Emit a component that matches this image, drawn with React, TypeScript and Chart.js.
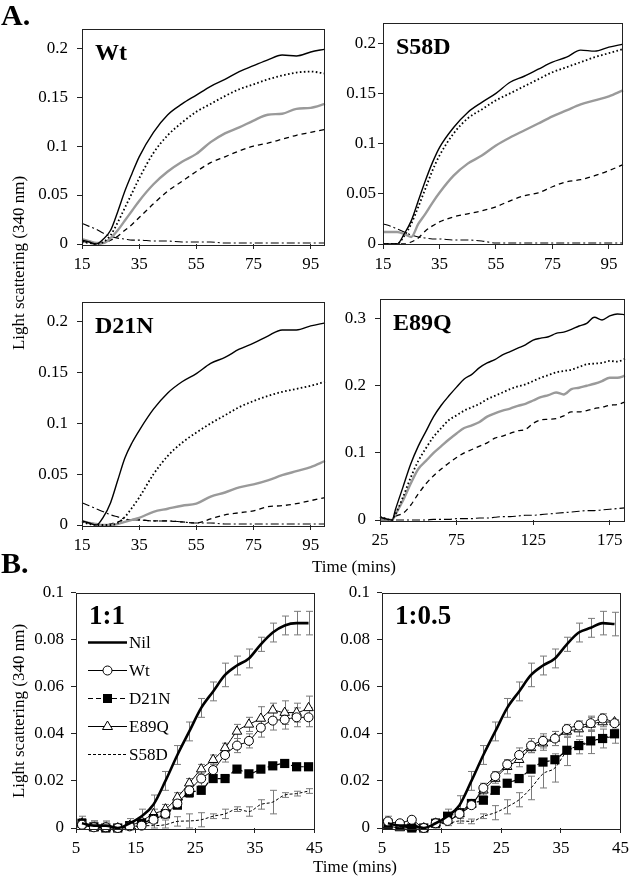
import React, { useEffect, useRef } from "react";
import { Chart, registerables } from "chart.js";

Chart.register(...registerables);

const FONT = "'Liberation Serif', 'Times New Roman', serif";

// ---------- Panel A data ----------
const timeA = [15, 17.5, 20, 22.5, 25, 27.5, 30, 32.5, 35, 40, 45, 50, 55, 60, 65, 70, 75, 80, 85, 90, 95, 100];
const xTicksA = [15, 35, 55, 75, 95];
const yTicksA = [0, 0.05, 0.1, 0.15, 0.2];

const wtSolid = [0.004, 0.002, 0.0, 0.005, 0.014, 0.033, 0.054, 0.072, 0.089, 0.114, 0.132, 0.143, 0.152, 0.161, 0.168, 0.176, 0.182, 0.188, 0.193, 0.192, 0.196, 0.199];
const wtDotted = [0.002, 0.001, 0.0, 0.002, 0.009, 0.022, 0.037, 0.052, 0.067, 0.093, 0.111, 0.124, 0.135, 0.143, 0.151, 0.158, 0.163, 0.168, 0.172, 0.175, 0.176, 0.174];
const wtGrey = [0.005, 0.003, 0.001, 0.001, 0.006, 0.014, 0.024, 0.034, 0.044, 0.061, 0.074, 0.084, 0.092, 0.104, 0.113, 0.119, 0.126, 0.132, 0.133, 0.138, 0.139, 0.143];
const wtDashed = [0.003, 0.001, 0.0, 0.001, 0.004, 0.008, 0.014, 0.02, 0.027, 0.041, 0.054, 0.064, 0.074, 0.083, 0.089, 0.095, 0.1, 0.103, 0.107, 0.111, 0.114, 0.117];
const wtDashDot = [0.021, 0.018, 0.015, 0.011, 0.008, 0.006, 0.005, 0.004, 0.004, 0.003, 0.003, 0.002, 0.002, 0.002, 0.001, 0.001, 0.001, 0.001, 0.001, 0.001, 0.001, 0.001];

const s58dSolid = [0.0, 0.0, 0.0, 0.01, 0.023, 0.043, 0.063, 0.081, 0.096, 0.116, 0.131, 0.141, 0.15, 0.161, 0.167, 0.174, 0.181, 0.186, 0.193, 0.192, 0.196, 0.199];
const s58dDotted = [0.0, 0.0, 0.0, 0.008, 0.02, 0.037, 0.055, 0.073, 0.088, 0.11, 0.125, 0.134, 0.143, 0.15, 0.157, 0.164, 0.171, 0.176, 0.181, 0.186, 0.19, 0.194];
const s58dGrey = [0.012, 0.012, 0.012, 0.01, 0.007, 0.02, 0.03, 0.041, 0.051, 0.068, 0.08, 0.088, 0.098, 0.106, 0.113, 0.12, 0.127, 0.133, 0.139, 0.143, 0.147, 0.153];
const s58dDashed = [0.0, 0.0, 0.0, 0.0, 0.002, 0.006, 0.013, 0.018, 0.022, 0.027, 0.03, 0.033, 0.037, 0.043, 0.048, 0.051, 0.057, 0.062, 0.064, 0.068, 0.073, 0.079];
const s58dDashDot = [0.02, 0.018, 0.015, 0.012, 0.009, 0.007, 0.006, 0.005, 0.005, 0.004, 0.004, 0.003, 0.001, 0.001, 0.001, 0.001, 0.001, 0.001, 0.001, 0.001, 0.001, 0.001];

const d21nSolid = [0.004, 0.002, 0.0, 0.008, 0.022, 0.044, 0.066, 0.081, 0.093, 0.114, 0.13, 0.141, 0.149, 0.159, 0.165, 0.173, 0.179, 0.186, 0.192, 0.192, 0.196, 0.199];
const d21nDotted = [0.003, 0.001, 0.0, 0.0, 0.0, 0.002, 0.008, 0.017, 0.027, 0.05, 0.068, 0.081, 0.091, 0.1, 0.108, 0.116, 0.122, 0.127, 0.131, 0.134, 0.137, 0.141];
const d21nGrey = [0.004, 0.002, 0.001, 0.0, 0.0, 0.001, 0.003, 0.005, 0.007, 0.013, 0.016, 0.019, 0.021, 0.028, 0.032, 0.037, 0.04, 0.044, 0.049, 0.053, 0.057, 0.063];
const d21nDashed = [0.003, 0.002, 0.001, 0.0, 0.001, 0.003, 0.005, 0.005, 0.005, 0.004, 0.004, 0.003, 0.002, 0.006, 0.01, 0.012, 0.014, 0.018, 0.019, 0.021, 0.024, 0.027];
const d21nDashDot = [0.022, 0.019, 0.016, 0.013, 0.01, 0.008, 0.006, 0.005, 0.005, 0.004, 0.004, 0.003, 0.002, 0.002, 0.001, 0.001, 0.001, 0.001, 0.001, 0.001, 0.001, 0.001];

const timeE = [25, 30, 33, 35, 40, 45, 50, 55, 60, 65, 70, 75, 80, 85, 90, 95, 100, 105, 110, 115, 120, 125, 130, 135, 140, 145, 150, 155, 160, 165, 170, 175, 180, 185];
const xTicksE = [25, 75, 125, 175];
const yTicksE = [0, 0.1, 0.2, 0.3];
const e89qSolid = [0.004, 0.001, 0.0, 0.015, 0.049, 0.083, 0.11, 0.132, 0.154, 0.171, 0.185, 0.198, 0.21, 0.217, 0.227, 0.234, 0.239, 0.246, 0.251, 0.256, 0.261, 0.268, 0.271, 0.273, 0.278, 0.28, 0.284, 0.289, 0.293, 0.302, 0.298, 0.304, 0.307, 0.306];
const e89qDotted = [0.005, 0.001, 0.0, 0.008, 0.034, 0.063, 0.088, 0.107, 0.124, 0.137, 0.149, 0.156, 0.163, 0.168, 0.173, 0.18, 0.185, 0.19, 0.195, 0.199, 0.202, 0.207, 0.212, 0.216, 0.22, 0.222, 0.224, 0.228, 0.232, 0.233, 0.234, 0.237, 0.236, 0.24];
const e89qGrey = [0.003, 0.001, 0.0, 0.008, 0.029, 0.054, 0.076, 0.088, 0.1, 0.11, 0.12, 0.129, 0.137, 0.141, 0.146, 0.154, 0.159, 0.163, 0.166, 0.17, 0.173, 0.178, 0.183, 0.186, 0.19, 0.187, 0.195, 0.197, 0.2, 0.203, 0.207, 0.212, 0.212, 0.215];
const e89qDashed = [0.004, 0.001, 0.0, 0.005, 0.01, 0.022, 0.039, 0.054, 0.066, 0.076, 0.085, 0.093, 0.1, 0.105, 0.11, 0.115, 0.122, 0.125, 0.129, 0.133, 0.135, 0.144, 0.149, 0.15, 0.151, 0.155, 0.161, 0.161, 0.163, 0.166, 0.168, 0.171, 0.172, 0.176];
const e89qDashDot = [0.0, 0.0, 0.0, 0.0, 0.0, 0.0, 0.0, 0.0, 0.001, 0.001, 0.001, 0.002, 0.002, 0.002, 0.003, 0.003, 0.004, 0.005, 0.005, 0.006, 0.007, 0.007, 0.008, 0.009, 0.01, 0.011, 0.012, 0.013, 0.014, 0.014, 0.015, 0.016, 0.017, 0.018];

// ---------- Panel B data ----------
const timeB = [6, 8, 10, 12, 14, 16, 18, 20, 22, 24, 26, 28, 30, 32, 34, 36, 38, 40, 42, 44];
const xTicksB = [5, 15, 25, 35, 45];
const yTicksB = [0, 0.02, 0.04, 0.06, 0.08, 0.1];
const legendB = ["Nil", "Wt", "D21N", "E89Q", "S58D"];

const nil11 = [0.002, 0.001, 0.001, 0.0, 0.002, 0.005, 0.01, 0.02, 0.031, 0.041, 0.051, 0.058, 0.065, 0.069, 0.072, 0.078, 0.083, 0.086, 0.087, 0.087];
const nil11Err = [0.003, 0.002, 0.002, 0.001, 0.002, 0.003, 0.004, 0.004, 0.004, 0.004, 0.004, 0.004, 0.005, 0.004, 0.004, 0.003, 0.004, 0.004, 0.005, 0.005];
const wt11 = [0.0014, 0.0003, 0.0003, 0.0, 0.0007, 0.001, 0.0035, 0.006, 0.0104, 0.016, 0.021, 0.0246, 0.031, 0.035, 0.037, 0.0426, 0.0456, 0.046, 0.047, 0.047];
const wt11Err = [0.002, 0.001, 0.001, 0.001, 0.001, 0.001, 0.001, 0.001, 0.002, 0.003, 0.003, 0.003, 0.003, 0.003, 0.003, 0.004, 0.004, 0.004, 0.004, 0.004];
const d21n11 = [0.002, 0.0005, 0.0, 0.0, 0.001, 0.002, 0.004, 0.006, 0.0097, 0.015, 0.016, 0.021, 0.021, 0.025, 0.023, 0.025, 0.0264, 0.0274, 0.026, 0.026];
const d21n11Err = [0.001, 0.001, 0.001, 0.001, 0.001, 0.001, 0.001, 0.001, 0.001, 0.001, 0.001, 0.001, 0.001, 0.001, 0.001, 0.001, 0.001, 0.001, 0.001, 0.001];
const e89q11 = [0.002, 0.0, 0.0, 0.0, 0.001, 0.003, 0.006, 0.008, 0.013, 0.019, 0.025, 0.029, 0.034, 0.041, 0.044, 0.0465, 0.05, 0.049, 0.049, 0.051];
const e89q11Err = [0.002, 0.001, 0.001, 0.001, 0.001, 0.001, 0.002, 0.002, 0.002, 0.002, 0.002, 0.002, 0.002, 0.003, 0.003, 0.005, 0.003, 0.005, 0.004, 0.005];
const s58d11 = [0.002, 0.001, 0.0005, 0.0, 0.0, 0.001, 0.001, 0.0014, 0.0028, 0.003, 0.0035, 0.005, 0.006, 0.008, 0.007, 0.01, 0.011, 0.014, 0.0146, 0.0157];
const s58d11Err = [0.002, 0.002, 0.002, 0.001, 0.001, 0.001, 0.001, 0.002, 0.002, 0.003, 0.003, 0.001, 0.002, 0.001, 0.002, 0.002, 0.005, 0.001, 0.001, 0.001];

const nil105 = [0.002, 0.001, 0.001, 0.0, 0.002, 0.005, 0.0097, 0.02, 0.031, 0.041, 0.051, 0.058, 0.065, 0.069, 0.072, 0.078, 0.083, 0.085, 0.087, 0.0866];
const nil105Err = [0.003, 0.002, 0.002, 0.001, 0.002, 0.003, 0.004, 0.004, 0.004, 0.004, 0.004, 0.004, 0.005, 0.004, 0.004, 0.003, 0.004, 0.004, 0.005, 0.005];
const wt105 = [0.0028, 0.002, 0.0035, 0.0, 0.002, 0.003, 0.006, 0.0097, 0.017, 0.022, 0.027, 0.031, 0.035, 0.037, 0.038, 0.042, 0.0435, 0.0445, 0.0465, 0.0445];
const wt105Err = [0.001, 0.001, 0.001, 0.001, 0.001, 0.001, 0.001, 0.001, 0.002, 0.002, 0.002, 0.003, 0.003, 0.003, 0.003, 0.002, 0.002, 0.003, 0.002, 0.001];
const d21n105 = [0.002, 0.001, 0.0, 0.0, 0.002, 0.005, 0.0065, 0.0104, 0.0118, 0.016, 0.019, 0.021, 0.025, 0.028, 0.029, 0.033, 0.035, 0.037, 0.038, 0.04];
const d21n105Err = [0.001, 0.001, 0.001, 0.001, 0.001, 0.001, 0.001, 0.001, 0.001, 0.001, 0.001, 0.001, 0.001, 0.001, 0.001, 0.001, 0.001, 0.001, 0.001, 0.001];
const e89q105 = [0.001, 0.0, 0.0, 0.0, 0.002, 0.003, 0.006, 0.01, 0.016, 0.021, 0.026, 0.029, 0.034, 0.036, 0.038, 0.041, 0.042, 0.044, 0.045, 0.045];
const e89q105Err = [0.001, 0.001, 0.001, 0.001, 0.001, 0.001, 0.001, 0.001, 0.002, 0.002, 0.003, 0.003, 0.002, 0.003, 0.003, 0.002, 0.003, 0.003, 0.002, 0.001];
const s58d105 = [0.002, 0.001, 0.001, 0.0, 0.002, 0.002, 0.003, 0.0028, 0.005, 0.0065, 0.009, 0.012, 0.017, 0.023, 0.0255, 0.0325, 0.0345, 0.0366, 0.038, 0.039];
const s58d105Err = [0.002, 0.001, 0.001, 0.001, 0.001, 0.001, 0.001, 0.001, 0.001, 0.003, 0.003, 0.003, 0.005, 0.006, 0.006, 0.006, 0.003, 0.005, 0.004, 0.003];

// ---------- styling ----------
type Style = "solid" | "dotted" | "grey" | "dashed" | "dashdot" | "nil" | "circle" | "square" | "triangle" | "fine";

function styleProps(s: Style): any {
  switch (s) {
    case "solid": return { borderColor: "#000", borderWidth: 1.4 };
    case "dotted": return { borderColor: "#000", borderWidth: 1.8, borderDash: [1.6, 2.4] };
    case "grey": return { borderColor: "#9a9a9a", borderWidth: 2.4 };
    case "dashed": return { borderColor: "#000", borderWidth: 1.3, borderDash: [5, 4] };
    case "dashdot": return { borderColor: "#000", borderWidth: 1.1, borderDash: [8, 3, 2, 3] };
    case "nil": return { borderColor: "#000", borderWidth: 2.6, pointRadius: 0 };
    case "circle": return { borderColor: "#000", borderWidth: 1, pointStyle: "circle", pointRadius: 4.5, pointBackgroundColor: "#fff", pointBorderColor: "#000", pointBorderWidth: 1 };
    case "square": return { borderColor: "#000", borderWidth: 1.2, borderDash: [5, 3], pointStyle: "rect", pointRadius: 6.5, pointBackgroundColor: "#000", pointBorderColor: "#000", pointBorderWidth: 0 };
    case "triangle": return { borderColor: "#000", borderWidth: 1, pointStyle: "triangle", pointRadius: 5.5, pointBackgroundColor: "#fff", pointBorderColor: "#000", pointBorderWidth: 1 };
    case "fine": return { borderColor: "#000", borderWidth: 1, borderDash: [3, 2], pointRadius: 0 };
  }
}

type SeriesDef = { label: string; values: number[]; style: Style; err?: number[] };

type PanelDef = {
  box: { l: number; t: number; r: number; b: number };
  title: string;
  titleSize: number;
  times: number[];
  xMin: number; xMax: number; xTicks: number[];
  yMax: number; yTicks: number[];
  yPad: number;
  series: SeriesDef[];
  legend?: boolean;
};

const AXW = 70, PT = 12, PR = 12, AXH = 40;

function Panel({ def }: { def: PanelDef }) {
  const ref = useRef<HTMLCanvasElement>(null);
  const { l, t, r, b } = def.box;
  const w = r - l + AXW + PR;
  const h = b - t + PT + AXH;
  useEffect(() => {
    const ctx = ref.current!.getContext("2d")!;
    const datasets = def.series.map((s) => ({
      label: s.label,
      data: def.times.map((x, i) => ({ x, y: s.values[i] })),
      fill: false,
      pointRadius: 0,
      cubicInterpolationMode: "monotone",
      clip: false,
      errors: s.err,
      ...styleProps(s.style),
    }));
    const framePlugin = {
      id: "frame",
      beforeDatasetsDraw(chart: any) {
        const c = chart.ctx;
        const ys = chart.scales.y;
        const xs = chart.scales.x;
        c.save();
        c.strokeStyle = "#7a7a7a";
        c.lineWidth = 1;
        chart.data.datasets.forEach((ds: any) => {
          if (!ds.errors) return;
          ds.data.forEach((p: any, i: number) => {
            const e = ds.errors[i];
            if (!e) return;
            const px = Math.round(xs.getPixelForValue(p.x)) + 0.5;
            const y1 = ys.getPixelForValue(p.y + e);
            const y2 = ys.getPixelForValue(Math.max(0, p.y - e));
            c.beginPath();
            c.moveTo(px, y1); c.lineTo(px, y2);
            c.moveTo(px - 3.5, y1); c.lineTo(px + 3.5, y1);
            c.moveTo(px - 3.5, y2); c.lineTo(px + 3.5, y2);
            c.stroke();
          });
        });
        c.restore();
      },
      afterDraw(chart: any) {
        const c = chart.ctx;
        const a = chart.chartArea;
        c.save();
        c.strokeStyle = "#222";
        c.lineWidth = 1;
        c.strokeRect(Math.round(a.left) + 0.5, Math.round(a.top) + 0.5, Math.round(a.right - a.left) - 1, Math.round(a.bottom - a.top));
        c.fillStyle = "#000";
        c.font = `bold ${def.titleSize}px ${FONT}`;
        c.textBaseline = "alphabetic";
        c.textAlign = "left";
        c.fillText(def.title, a.left + 13, a.top + 31);
        if (def.legend) {
          const rows = [50, 78, 106, 134, 162];
          const styles: Style[] = ["nil", "circle", "square", "triangle", "fine"];
          rows.forEach((ry, i) => {
            const y = a.top + ry;
            const x0 = a.left + 12, x1 = a.left + 51, xm = (x0 + x1) / 2;
            const sp = styleProps(styles[i]);
            c.save();
            c.strokeStyle = "#000";
            c.lineWidth = sp.borderWidth;
            c.setLineDash(sp.borderDash || []);
            c.beginPath(); c.moveTo(x0, y); c.lineTo(x1, y); c.stroke();
            c.setLineDash([]);
            c.lineWidth = 1;
            if (styles[i] === "circle") {
              c.fillStyle = "#fff"; c.beginPath(); c.arc(xm, y, 4.5, 0, Math.PI * 2); c.fill(); c.stroke();
            } else if (styles[i] === "square") {
              c.fillStyle = "#000"; c.fillRect(xm - 4.5, y - 4.5, 9, 9);
            } else if (styles[i] === "triangle") {
              c.fillStyle = "#fff"; c.beginPath(); c.moveTo(xm, y - 5.5); c.lineTo(xm + 5, y + 3); c.lineTo(xm - 5, y + 3); c.closePath(); c.fill(); c.stroke();
            }
            c.restore();
            c.fillStyle = "#000";
            c.font = `17px ${FONT}`;
            c.textBaseline = "middle";
            c.fillText(legendB[i], x1 + 2, y + 1);
          });
        }
        c.restore();
      },
    };
    const chart = new Chart(ctx, {
      type: "line",
      data: { datasets: datasets as any },
      plugins: [framePlugin],
      options: {
        responsive: false,
        animation: false,
        events: [],
        layout: { padding: { left: 0, top: PT, right: PR, bottom: 0 } },
        plugins: { legend: { display: false }, tooltip: { enabled: false } },
        scales: {
          x: {
            type: "linear",
            min: def.xMin,
            max: def.xMax,
            afterBuildTicks: (ax: any) => { ax.ticks = def.xTicks.map((value) => ({ value })); },
            afterFit: (ax: any) => { ax.height = AXH; },
            grid: { display: true, drawOnChartArea: false, drawTicks: true, tickLength: 5, color: "#222", tickColor: "#222" },
            border: { display: false },
            ticks: { color: "#000", padding: 7, maxRotation: 0, autoSkip: false, font: { family: FONT, size: 17, lineHeight: 1 }, callback: (v: any) => String(v) },
          },
          y: {
            type: "linear",
            min: 0,
            max: def.yMax,
            afterBuildTicks: (ax: any) => { ax.ticks = def.yTicks.map((value) => ({ value })); },
            afterFit: (ax: any) => { ax.width = AXW; },
            grid: { display: true, drawOnChartArea: false, drawTicks: true, tickLength: 5, color: "#222", tickColor: "#222" },
            border: { display: false },
            ticks: { color: "#000", padding: def.yPad, autoSkip: false, font: { family: FONT, size: 17, lineHeight: 1 }, callback: (v: any) => String(v) },
          },
        },
      } as any,
    });
    return () => chart.destroy();
  }, []);
  return (
    <canvas
      ref={ref}
      width={w}
      height={h}
      style={{ position: "absolute", left: l - AXW, top: t - PT, width: w, height: h }}
    />
  );
}

const panels: PanelDef[] = [
  {
    box: { l: 82, t: 23, r: 325, b: 244 }, title: "Wt", titleSize: 24, times: timeA,
    xMin: 15, xMax: 100, xTicks: xTicksA, yMax: 0.22, yTicks: yTicksA, yPad: 9,
    series: [
      { label: "solid", values: wtSolid, style: "solid" },
      { label: "dotted", values: wtDotted, style: "dotted" },
      { label: "grey", values: wtGrey, style: "grey" },
      { label: "dashed", values: wtDashed, style: "dashed" },
      { label: "dashdot", values: wtDashDot, style: "dashdot" },
    ],
  },
  {
    box: { l: 383, t: 23, r: 623, b: 244 }, title: "S58D", titleSize: 24, times: timeA,
    xMin: 15, xMax: 100, xTicks: xTicksA, yMax: 0.22, yTicks: yTicksA, yPad: 2,
    series: [
      { label: "solid", values: s58dSolid, style: "solid" },
      { label: "dotted", values: s58dDotted, style: "dotted" },
      { label: "grey", values: s58dGrey, style: "grey" },
      { label: "dashed", values: s58dDashed, style: "dashed" },
      { label: "dashdot", values: s58dDashDot, style: "dashdot" },
    ],
  },
  {
    box: { l: 82, t: 296, r: 325, b: 525 }, title: "D21N", titleSize: 24, times: timeA,
    xMin: 15, xMax: 100, xTicks: xTicksA, yMax: 0.22, yTicks: yTicksA, yPad: 9,
    series: [
      { label: "solid", values: d21nSolid, style: "solid" },
      { label: "dotted", values: d21nDotted, style: "dotted" },
      { label: "grey", values: d21nGrey, style: "grey" },
      { label: "dashed", values: d21nDashed, style: "dashed" },
      { label: "dashdot", values: d21nDashDot, style: "dashdot" },
    ],
  },
  {
    box: { l: 380, t: 293, r: 625, b: 520 }, title: "E89Q", titleSize: 24, times: timeE,
    xMin: 25, xMax: 185, xTicks: xTicksE, yMax: 0.33, yTicks: yTicksE, yPad: 9,
    series: [
      { label: "solid", values: e89qSolid, style: "solid" },
      { label: "dotted", values: e89qDotted, style: "dotted" },
      { label: "grey", values: e89qGrey, style: "grey" },
      { label: "dashed", values: e89qDashed, style: "dashed" },
      { label: "dashdot", values: e89qDashDot, style: "dashdot" },
    ],
  },
  {
    box: { l: 76, t: 589, r: 318, b: 828 }, title: "1:1", titleSize: 27, times: timeB,
    xMin: 5, xMax: 45, xTicks: xTicksB, yMax: 0.1, yTicks: yTicksB, yPad: 7, legend: true,
    series: [
      { label: "Nil", values: nil11, style: "nil", err: nil11Err },
      { label: "Wt", values: wt11, style: "circle", err: wt11Err },
      { label: "D21N", values: d21n11, style: "square", err: d21n11Err },
      { label: "E89Q", values: e89q11, style: "triangle", err: e89q11Err },
      { label: "S58D", values: s58d11, style: "fine", err: s58d11Err },
    ],
  },
  {
    box: { l: 382, t: 589, r: 624, b: 828 }, title: "1:0.5", titleSize: 27, times: timeB,
    xMin: 5, xMax: 45, xTicks: xTicksB, yMax: 0.1, yTicks: yTicksB, yPad: 7,
    series: [
      { label: "Nil", values: nil105, style: "nil", err: nil105Err },
      { label: "Wt", values: wt105, style: "circle", err: wt105Err },
      { label: "D21N", values: d21n105, style: "square", err: d21n105Err },
      { label: "E89Q", values: e89q105, style: "triangle", err: e89q105Err },
      { label: "S58D", values: s58d105, style: "fine", err: s58d105Err },
    ],
  },
];

const textBase: React.CSSProperties = { position: "absolute", fontFamily: FONT, color: "#000", whiteSpace: "nowrap", lineHeight: 1 };

export default function App() {
  useEffect(() => {
    document.body.style.margin = "0";
  }, []);
  return (
    <div style={{ position: "relative", width: 633, height: 882, background: "#fff", overflow: "hidden" }}>
      {panels.map((p, i) => <Panel key={i} def={p} />)}
      <div style={{ ...textBase, left: 1, top: 0, fontSize: 30, fontWeight: "bold" }}>A.</div>
      <div style={{ ...textBase, left: 1, top: 548, fontSize: 30, fontWeight: "bold" }}>B.</div>
      <div style={{ ...textBase, left: 18, top: 263, fontSize: 17, transform: "translate(-50%, -50%) rotate(-90deg)" }}>Light scattering (340 nm)</div>
      <div style={{ ...textBase, left: 18, top: 711, fontSize: 17, transform: "translate(-50%, -50%) rotate(-90deg)" }}>Light scattering (340 nm)</div>
      <div style={{ ...textBase, left: 354, top: 566, fontSize: 17, transform: "translate(-50%, -50%)" }}>Time (mins)</div>
      <div style={{ ...textBase, left: 355, top: 866, fontSize: 17, transform: "translate(-50%, -50%)" }}>Time (mins)</div>
    </div>
  );
}
